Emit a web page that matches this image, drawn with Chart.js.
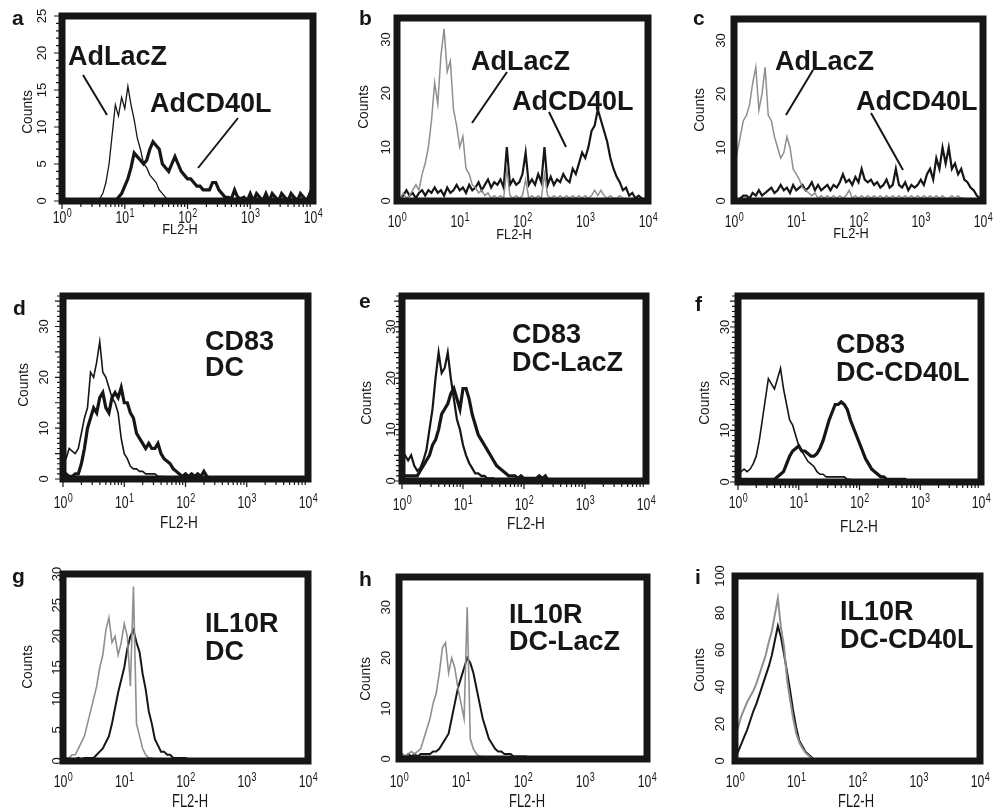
<!DOCTYPE html>
<html>
<head>
<meta charset="utf-8">
<script src="https://cdn.jsdelivr.net/npm/chart.js@4.4.0/dist/chart.umd.min.js"></script>
<style>
  body { margin: 0; background: #fff; }
  #fig { position: relative; width: 1002px; height: 812px; overflow: hidden; background: #fff; }
  #fig canvas { position: absolute; }
</style>
</head>
<body>
<div id="fig"></div>
<script>
// log10 of FL2-H, one histogram bin every 0.05 decade
const channels = [
  0, 0.05, 0.1, 0.15, 0.2, 0.25, 0.3, 0.35, 0.4, 0.45,
  0.5, 0.55, 0.6, 0.65, 0.7, 0.75, 0.8, 0.85, 0.9, 0.95,
  1, 1.05, 1.1, 1.15, 1.2, 1.25, 1.3, 1.35, 1.4, 1.45,
  1.5, 1.55, 1.6, 1.65, 1.7, 1.75, 1.8, 1.85, 1.9, 1.95,
  2, 2.05, 2.1, 2.15, 2.2, 2.25, 2.3, 2.35, 2.4, 2.45,
  2.5, 2.55, 2.6, 2.65, 2.7, 2.75, 2.8, 2.85, 2.9, 2.95,
  3, 3.05, 3.1, 3.15, 3.2, 3.25, 3.3, 3.35, 3.4, 3.45,
  3.5, 3.55, 3.6, 3.65, 3.7, 3.75, 3.8, 3.85, 3.9, 3.95,
  4
];
const xTickExps = [0, 1, 2, 3, 4];

// counts per bin
const aLacZ = [
  0, 0, 0, 0, 0, 0, 0, 0, 0, 0,
  0, 0, 0.3, 1, 2.5, 5, 9, 13, 11.5, 14,
  12.5, 15.5, 13, 11, 8.5, 7, 5, 4.5, 3.5, 3,
  2.5, 1.5, 1, 0.5, 0
];
const aCD40L = [
  0, 0, 0, 0, 0, 0, 0, 0, 0, 0,
  0, 0, 0, 0, 0, 0, 0, 0, 0.5, 1,
  2, 3, 4.5, 6.5, 6, 5.5, 5, 5.5, 7, 8,
  7.5, 7, 5, 4.5, 4, 5, 6, 5, 4, 3.5,
  3, 3, 2.5, 2, 2, 1.5, 1.5, 1.5, 2.5, 2.5,
  1.5, 1, 0.5, 0.5, 0.3, 1.5, 0.5, 0.3, 0.5, 0,
  1, 0, 1, 0.5, 0, 1, 0, 1, 0.5, 0,
  1, 0.5, 0, 1, 0.5, 0, 1, 0.5, 0, 1,
  0
];
const bLacZ = [
  1, 0.5, 1.5, 0.5, 1, 2, 3, 2, 5, 7,
  10, 15, 22, 18, 27, 32, 24, 26, 17, 14,
  10, 12, 6, 5, 3, 2.5, 1.5, 2, 1, 1.5,
  0.5, 1, 0.5, 1, 0.5, 6, 1, 0.5, 1, 0.5,
  1, 4, 0.5, 1, 0.5, 1, 0.5, 5, 1, 0.5,
  1, 0.5, 1, 0.5, 1, 0.5, 1, 0.5, 1, 0.5,
  1, 0.5, 1, 2, 1, 2, 1, 0.5, 1, 0.5,
  0.5, 1, 0.5, 0.5, 0, 0.5, 0, 0, 0, 0,
  0
];
const bCD40L = [
  1.5, 0.5, 1, 2, 1, 1.5, 0.5, 1.5, 2, 1,
  2, 1.5, 2.5, 1.5, 2, 1, 2.5, 1.5, 2, 3,
  2, 2.5, 1.5, 3, 2, 2.5, 3.5, 2, 3, 4,
  2.5, 3.5, 3, 4, 2.5, 10, 3, 4, 3, 3.5,
  5, 9, 3, 4, 3, 5, 3.5, 10, 3, 4.5,
  3, 4, 3.5, 5, 4, 3.5, 6, 5, 7, 9,
  8, 10, 13, 14, 17, 15, 13, 11, 8, 6,
  4.5, 3.5, 2, 2.5, 1, 1.5, 0.5, 1, 0.5, 0.3,
  0
];
const cLacZ = [
  6, 9, 12, 15, 16, 18, 22, 25, 17, 20,
  25, 16, 15, 12, 10, 8, 9, 12, 10, 6,
  5, 4, 2.5, 2, 1.5, 1, 1.5, 0.5, 1, 0.5,
  1, 0.5, 1, 0.5, 1, 0.5, 1, 2, 0.5, 1,
  0.5, 1, 0.5, 1, 0.5, 1, 0.5, 1, 0.5, 1,
  0.5, 1, 0.5, 1, 0.5, 1, 0.5, 1, 0.5, 1,
  0.5, 1, 0.5, 1, 0.5, 1, 0.5, 1, 0.5, 0.5,
  1, 0.5, 1, 0.5, 0.5, 0, 0.5, 0, 0, 0,
  0
];
const cCD40L = [
  0, 0, 0.5, 1, 1, 0.5, 1.5, 1, 2, 1,
  1.5, 2, 2.5, 1.5, 2, 3, 2, 2.5, 1.5, 3,
  2, 2.5, 3, 2, 2.5, 3.5, 2, 3, 2, 2.5,
  3, 2, 3, 2.5, 3.5, 5, 3.5, 4, 3, 4.5,
  3.5, 6, 4, 3.5, 4, 3, 3.5, 2.5, 3, 4,
  2.5, 3, 6, 3, 2.5, 3.5, 2, 3, 2.5, 3,
  4, 3, 5, 6, 4, 8, 6, 10, 7, 10,
  6, 7, 5, 6, 4, 3.5, 2.5, 2, 1, 0.5,
  0
];
const dIsotype = [
  3.5, 4, 6, 5.5, 5, 6, 9, 12, 14, 21,
  20, 23, 27, 21, 20, 18, 16, 15, 13, 8,
  5, 4, 2.5, 2, 2, 1.5, 1.5, 1, 1, 1,
  1, 0.5, 0.5, 0.5, 0
];
const dCD83 = [
  0, 1, 0.5, 0.5, 1, 1, 3, 6, 10, 12,
  14, 13, 16, 17, 14, 13, 16, 17, 16, 18,
  15, 15, 13, 12, 9, 8, 7, 6, 7, 6,
  6, 7, 5, 4, 3.5, 3, 2, 1.5, 1, 0.5,
  1, 0.5, 1, 0.5, 1, 0.5, 1.5, 0.5, 0
];
const eIsotype = [
  4, 5, 4, 5, 3, 2, 2.5, 4, 6, 10,
  14, 20, 25, 21, 22, 25, 20, 16, 12, 10,
  7, 5, 3.5, 2.5, 1.5, 1.5, 1, 1, 0.5, 0.5,
  0.5, 0
];
const eCD83 = [
  1, 1, 1, 1, 1, 1, 2, 3, 4, 5,
  7, 8, 10, 13, 14, 15, 17, 18, 16, 14,
  18, 18, 16, 13, 11, 9, 8, 7, 6, 5,
  4, 3, 2.5, 2, 1.5, 1, 1, 1, 0.5, 1,
  0.5, 0.5, 0.5, 0.5, 0.5, 1, 0.5, 1, 0
];
const fIsotype = [
  1, 2, 2.5, 2, 2.5, 3.5, 5, 8, 12, 16,
  20, 19, 18, 20, 22, 18, 15, 12, 11, 9,
  7, 6, 5, 4, 3.5, 3, 2, 1.5, 1.5, 1,
  1, 1, 1, 1, 1, 1, 0.5, 0.5, 0
];
const fCD83 = [
  0.5, 0.5, 0.5, 0.5, 0.5, 0.5, 0.5, 0.5, 0.5, 0.5,
  0.5, 0.5, 0.5, 1, 1.5, 2, 3.5, 5, 6, 6.5,
  7, 6, 6, 5.5, 5, 5, 5.5, 6.5, 8, 10,
  12, 13.5, 15, 15, 15.5, 15, 14, 12, 10.5, 9,
  7.5, 6, 4.5, 3.5, 2.5, 2, 1.5, 1, 1, 0.5,
  0.5, 0.5, 0.5, 0.5, 0.5, 0.5, 0
];
const gIsotype = [
  0.5, 0.5, 0.5, 1, 1, 2, 3, 4, 6, 8,
  10, 12, 15, 17, 21, 23, 19, 20, 17, 19,
  22, 20, 12, 28, 6, 4, 2, 1, 0.5, 0.5,
  0
];
const gIL10R = [
  0.3, 0.3, 0.3, 0.3, 0.3, 0.5, 0.3, 0.5, 0.5, 0.5,
  0.5, 1, 1.5, 2, 3, 4, 6, 8.5, 11, 13,
  15, 18, 20, 21, 19, 17.5, 14, 11.5, 8, 6,
  3.5, 2.5, 1.5, 1.5, 1, 1, 0.5, 0.5, 0.5, 0.5,
  0.5, 0.3, 0
];
const hIsotype = [
  1, 1, 0.5, 1, 1.5, 1, 1.5, 2, 4, 6,
  8, 11, 13, 17, 22, 23, 17, 20, 18, 14,
  11, 8, 30, 4, 2, 1, 0.5, 0.5, 0
];
const hIL10R = [
  0.5, 1, 0.5, 1, 0.5, 1, 0.5, 1, 1, 1,
  1, 1.5, 1.5, 2, 3, 4, 5, 8, 11, 14,
  16, 18, 20, 19, 17, 14, 11, 8, 6, 4,
  3, 2, 1.5, 1.5, 1, 1, 1, 0.5, 0.5, 0.5,
  0.5, 0.5, 0
];
const iIsotype = [
  13, 18, 24, 28, 32, 35, 38, 42, 47, 52,
  57, 64, 70, 79, 88, 72, 62, 44, 33, 23,
  15, 10, 7, 4.5, 3, 1.5, 0
];
const iIL10R = [
  2, 5, 9, 13, 17, 22, 27, 31, 36, 41,
  46, 51, 57, 65, 73, 67, 58, 48, 38, 27,
  18, 11, 8, 5, 3.5, 2, 0.5, 0
];

const yTicks25 = [0, 5, 10, 15, 20, 25];
const yTicks30 = [0, 10, 20, 30];
const yTicks30fine = [0, 5, 10, 15, 20, 25, 30];
const yTicks100 = [0, 20, 40, 60, 80, 100];

const BLACK = '#161616';
const GRAY = '#8f8f8f';
const FONT = '"Liberation Sans", Arial, sans-serif';

// layout: box = plot frame [left, top, right, bottom] in page pixels
const panels = [
  { letter: 'a', x0: 0, y0: 0, w: 334, h: 268, box: [62, 16, 313, 201], ymax: 25, yTicks: yTicks25,
    letterPos: [12, 25], yTickX: 42, countsPos: [28, 112], xTickBase: 223, titlePos: [180, 234, 15], combs: true,
    series: [{ values: aLacZ, color: BLACK, width: 1.3 }, { values: aCD40L, color: BLACK, width: 3.2 }],
    notes: [['AdLacZ', 68, 65], ['AdCD40L', 150, 112]],
    leaders: [[83, 75, 107, 115], [238, 118, 198, 168]] },
  { letter: 'b', x0: 334, y0: 0, w: 334, h: 268, box: [397, 18, 648, 201], ymax: 34, yTicks: yTicks30,
    letterPos: [359, 25], yTickX: 386, countsPos: [364, 107], xTickBase: 227, titlePos: [514, 239, 15],
    series: [{ values: bLacZ, color: GRAY, width: 1.5 }, { values: bCD40L, color: BLACK, width: 2.2 }],
    notes: [['AdLacZ', 471, 70], ['AdCD40L', 512, 110]],
    leaders: [[507, 72, 472, 123], [549, 112, 566, 147]] },
  { letter: 'c', x0: 668, y0: 0, w: 334, h: 268, box: [734, 19, 983, 201], ymax: 34, yTicks: yTicks30,
    letterPos: [693, 25], yTickX: 721, countsPos: [700, 110], xTickBase: 227, titlePos: [851, 238, 15],
    series: [{ values: cLacZ, color: GRAY, width: 1.5 }, { values: cCD40L, color: BLACK, width: 2.2 }],
    notes: [['AdLacZ', 775, 70], ['AdCD40L', 856, 110]],
    leaders: [[813, 70, 786, 115], [871, 113, 903, 170]] },
  { letter: 'd', x0: 0, y0: 268, w: 334, h: 272, box: [63, 296, 308, 479], ymax: 36, yTicks: yTicks30,
    letterPos: [13, 315], yTickX: 44, countsPos: [24, 385], xTickBase: 508, titlePos: [179, 528, 16], combs: true,
    series: [{ values: dIsotype, color: BLACK, width: 1.6 }, { values: dCD83, color: BLACK, width: 3.2 }],
    notes: [['CD83', 205, 350], ['DC', 205, 376]], leaders: [] },
  { letter: 'e', x0: 334, y0: 268, w: 334, h: 272, box: [402, 296, 646, 481], ymax: 36, yTicks: yTicks30,
    letterPos: [359, 308], yTickX: 391, countsPos: [367, 403], xTickBase: 510, titlePos: [526, 529, 16], combs: true,
    series: [{ values: eIsotype, color: BLACK, width: 2.2 }, { values: eCD83, color: BLACK, width: 3.2 }],
    notes: [['CD83', 512, 343], ['DC-LacZ', 512, 371]], leaders: [] },
  { letter: 'f', x0: 668, y0: 268, w: 334, h: 272, box: [738, 296, 981, 482], ymax: 36, yTicks: yTicks30,
    letterPos: [695, 311], yTickX: 725, countsPos: [705, 403], xTickBase: 508, titlePos: [859, 532, 16], combs: true,
    series: [{ values: fIsotype, color: BLACK, width: 1.6 }, { values: fCD83, color: BLACK, width: 3.2 }],
    notes: [['CD83', 836, 353], ['DC-CD40L', 836, 381]], leaders: [] },
  { letter: 'g', x0: 0, y0: 540, w: 334, h: 272, box: [63, 574, 308, 761], ymax: 30, yTicks: yTicks30fine,
    letterPos: [12, 583], yTickX: 57, countsPos: [28, 667], xTickBase: 787, titlePos: [190, 807, 18],
    series: [{ values: gIsotype, color: GRAY, width: 1.6 }, { values: gIL10R, color: BLACK, width: 2 }],
    notes: [['IL10R', 205, 632], ['DC', 205, 660]], leaders: [] },
  { letter: 'h', x0: 334, y0: 540, w: 334, h: 272, box: [399, 577, 647, 759], ymax: 36, yTicks: yTicks30,
    letterPos: [359, 586], yTickX: 386, countsPos: [366, 679], xTickBase: 787, titlePos: [527, 807, 18],
    series: [{ values: hIsotype, color: GRAY, width: 1.6 }, { values: hIL10R, color: BLACK, width: 2 }],
    notes: [['IL10R', 509, 623], ['DC-LacZ', 509, 650]], leaders: [] },
  { letter: 'i', x0: 668, y0: 540, w: 334, h: 272, box: [735, 576, 980, 761], ymax: 100, yTicks: yTicks100,
    letterPos: [695, 584], yTickX: 720, countsPos: [700, 670], xTickBase: 787, titlePos: [856, 807, 18],
    series: [{ values: iIsotype, color: GRAY, width: 2 }, { values: iIL10R, color: BLACK, width: 2 }],
    notes: [['IL10R', 840, 620], ['DC-CD40L', 840, 648]], leaders: [] }
];

function drawText(ctx, text, x, y, font, align, sx) {
  ctx.save();
  ctx.translate(x, y);
  ctx.scale(sx || 1, 1);
  ctx.font = font;
  ctx.textAlign = align || 'left';
  ctx.textBaseline = 'alphabetic';
  ctx.fillText(text, 0, 0);
  ctx.restore();
}

// frame, axis texts and labels drawn on top of the histograms
function panelDeco(p) {
  return {
    id: 'deco_' + p.letter,
    afterDraw(chart) {
      const ctx = chart.ctx;
      const area = chart.chartArea;
      const xs = chart.scales.x;
      const ys = chart.scales.y;
      const ox = p.x0, oy = p.y0;
      ctx.save();
      ctx.fillStyle = BLACK;
      ctx.strokeStyle = BLACK;

      // small tick combs outside the frame
      if (p.combs) {
        ctx.lineWidth = 1.2;
        ctx.beginPath();
        for (let d = 0; d < 4; d++) {
          for (let k = 1; k < 10; k++) {
            const px = xs.getPixelForValue(d + Math.log10(k));
            ctx.moveTo(px, area.bottom + 3);
            ctx.lineTo(px, area.bottom + (k === 1 ? 8 : 6));
          }
        }
        for (let v = 0; v <= p.ymax; v++) {
          const py = ys.getPixelForValue(v);
          ctx.moveTo(area.left - 3, py);
          ctx.lineTo(area.left - (v % 5 === 0 ? 8 : 6), py);
        }
        ctx.stroke();
      }

      ctx.lineWidth = 7;
      ctx.strokeRect(area.left, area.top, area.right - area.left, area.bottom - area.top);

      // y tick labels, rotated
      p.yTicks.forEach(v => {
        ctx.save();
        ctx.translate(p.yTickX - ox, ys.getPixelForValue(v));
        ctx.rotate(-Math.PI / 2);
        ctx.font = '13px ' + FONT;
        ctx.textAlign = 'center';
        ctx.textBaseline = 'middle';
        ctx.fillText(String(v), 0, 0);
        ctx.restore();
      });

      // "Counts"
      ctx.save();
      ctx.translate(p.countsPos[0] - ox, p.countsPos[1] - oy);
      ctx.rotate(-Math.PI / 2);
      ctx.scale(0.92, 1);
      ctx.font = '15px ' + FONT;
      ctx.textAlign = 'center';
      ctx.textBaseline = 'middle';
      ctx.fillText('Counts', 0, 0);
      ctx.restore();

      // x tick labels 10^n
      const bigFont = '17px ' + FONT;
      const supFont = '12px ' + FONT;
      xTickExps.forEach(e => {
        const px = xs.getPixelForValue(e);
        ctx.font = bigFont;
        const w1 = ctx.measureText('10').width * 0.72;
        ctx.font = supFont;
        const w2 = ctx.measureText(String(e)).width * 0.75;
        const left = px - (w1 + w2) / 2;
        const base = p.xTickBase - oy;
        drawText(ctx, '10', left, base, bigFont, 'left', 0.72);
        drawText(ctx, String(e), left + w1 + 0.5, base - 6.5, supFont, 'left', 0.75);
      });

      drawText(ctx, 'FL2-H', p.titlePos[0] - ox, p.titlePos[1] - oy, p.titlePos[2] + 'px ' + FONT, 'center',
        p.titlePos[2] > 16 ? 0.72 : 0.85);

      // panel letter
      drawText(ctx, p.letter, p.letterPos[0] - ox, p.letterPos[1] - oy, 'bold 21px ' + FONT, 'left', 1);

      // labels and leader lines
      p.notes.forEach(n => drawText(ctx, n[0], n[1] - ox, n[2] - oy, 'bold 27px ' + FONT, 'left', 1));
      ctx.lineWidth = 2;
      ctx.beginPath();
      p.leaders.forEach(l => {
        ctx.moveTo(l[0] - ox, l[1] - oy);
        ctx.lineTo(l[2] - ox, l[3] - oy);
      });
      ctx.stroke();
      ctx.restore();
    }
  };
}

const fig = document.getElementById('fig');

panels.forEach(p => {
  const canvas = document.createElement('canvas');
  canvas.width = p.w;
  canvas.height = p.h;
  canvas.style.left = p.x0 + 'px';
  canvas.style.top = p.y0 + 'px';
  canvas.style.width = p.w + 'px';
  canvas.style.height = p.h + 'px';
  fig.appendChild(canvas);

  new Chart(canvas, {
    type: 'line',
    data: {
      datasets: p.series.map(s => ({
        data: s.values.map((v, i) => ({ x: channels[i], y: v })),
        borderColor: s.color,
        borderWidth: s.width,
        pointRadius: 0,
        tension: 0,
        fill: false
      }))
    },
    options: {
      responsive: false,
      animation: false,
      devicePixelRatio: 1,
      events: [],
      layout: {
        padding: {
          left: p.box[0] - p.x0,
          top: p.box[1] - p.y0,
          right: p.x0 + p.w - p.box[2],
          bottom: p.y0 + p.h - p.box[3]
        }
      },
      scales: {
        x: { type: 'linear', display: false, min: 0, max: 4 },
        y: { type: 'linear', display: false, min: 0, max: p.ymax }
      },
      plugins: {
        legend: { display: false },
        tooltip: { enabled: false }
      }
    },
    plugins: [panelDeco(p)]
  });
});
</script>
</body>
</html>
